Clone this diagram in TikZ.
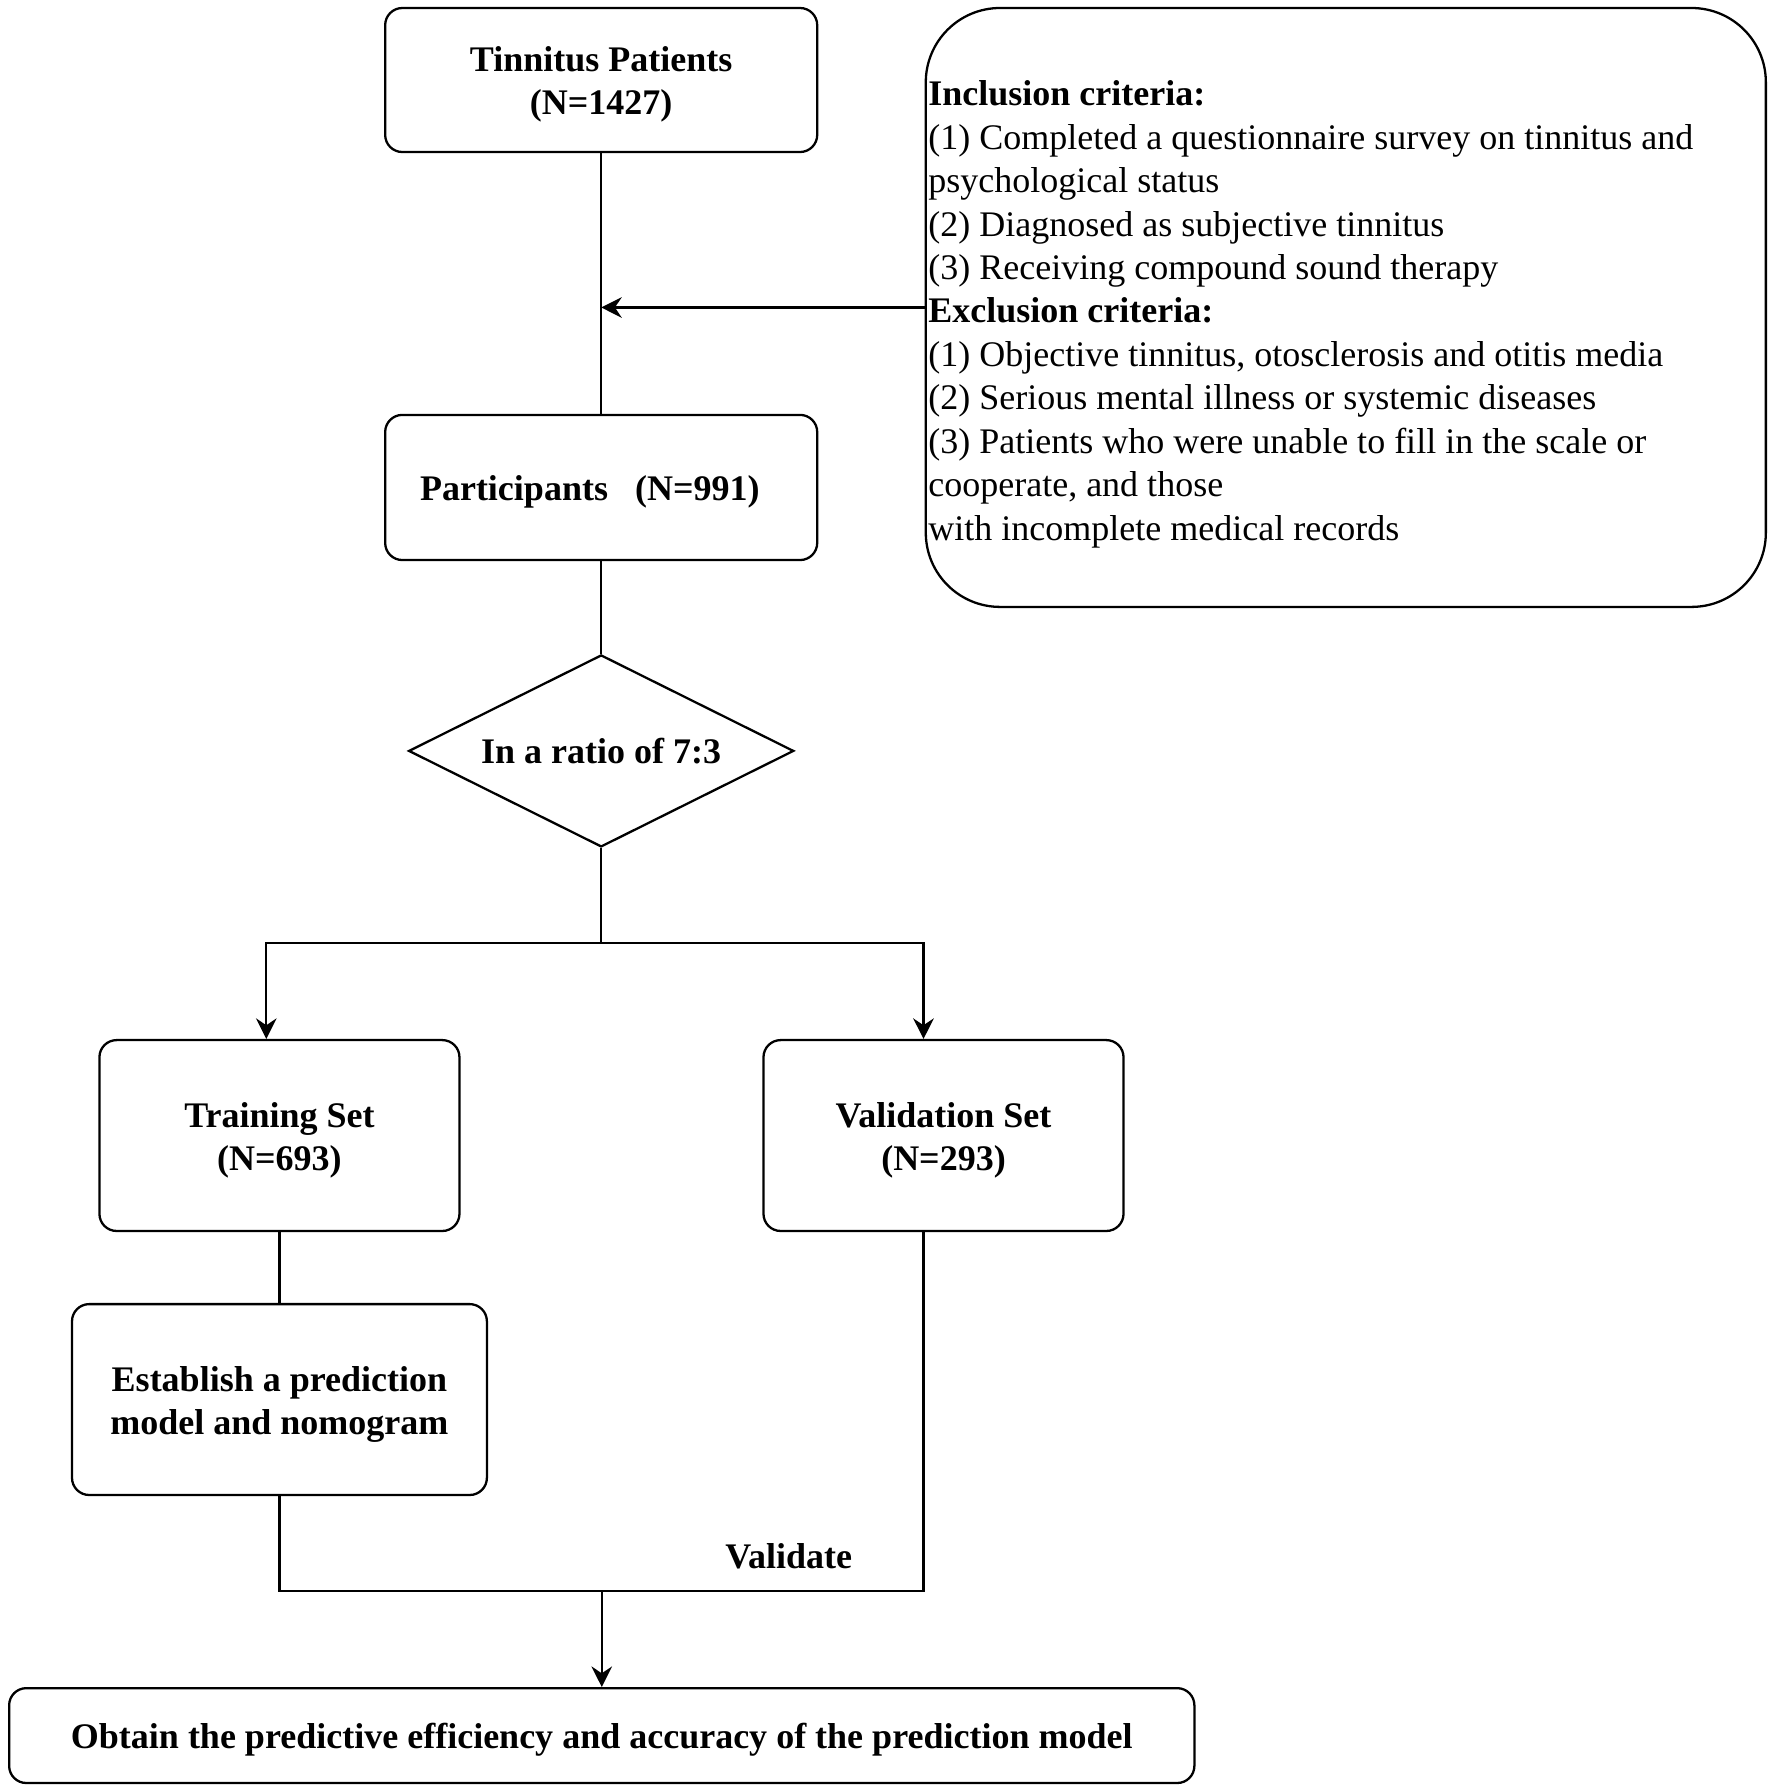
\documentclass[tikz,border=0pt]{standalone}
\usepackage{fontspec}
\setmainfont{Liberation Serif}
\usetikzlibrary{shapes.geometric,arrows.meta}
\newcommand{\boxtxt}[1]{\raisebox{-4pt}[\height][\depth]{\begin{tabular}{@{}c@{}}#1\end{tabular}}}
\begin{document}
\begin{tikzpicture}[x=1pt,y=-1pt,
  box/.style={draw,line width=2pt,rounded corners=15pt,inner sep=0pt,
    font=\fontsize{31.5}{38}\selectfont\bfseries},
  conn/.style={line width=2pt},
  arr/.style={line width=2pt,-{Stealth[length=18pt,width=18pt,inset=6pt]}},
  lbl/.style={font=\fontsize{31.5}{38}\selectfont\bfseries,inner sep=0pt}]
\useasboundingbox (0,0) rectangle (1550,1567);
\node[box,minimum width=378pt,minimum height=126pt] (tp) at (526,70) {\boxtxt{Tinnitus Patients\\(N=1427)}};
\node[box,minimum width=378pt,minimum height=127pt] (part) at (526,426.5) {\boxtxt{Participants\hspace{0.75em}(N=991)\kern20pt}};
\node[draw,line width=2pt,rounded corners=65pt,minimum width=735pt,minimum height=524pt,inner sep=0pt] (crit) at (1177.5,269) {};
\node[anchor=west,inner sep=0pt,align=left,font=\fontsize{31.5}{38}\selectfont] (crittext) at (812,275) {\textbf{Inclusion criteria:}\\
(1) Completed a questionnaire survey on tinnitus and\\
psychological status\\
(2) Diagnosed as subjective tinnitus\\
(3) Receiving compound sound therapy\\
\textbf{Exclusion criteria:}\\
(1) Objective tinnitus, otosclerosis and otitis media\\
(2) Serious mental illness or systemic diseases\\
(3) Patients who were unable to fill in the scale or\\
cooperate, and those\\
with incomplete medical records};
\node[draw,diamond,line width=2pt,minimum width=337pt,minimum height=168pt,inner sep=0pt,aspect=2,
  font=\fontsize{31.5}{38}\selectfont\bfseries] (dia) at (526,657) {In a ratio of 7:3};
\node[box,minimum width=315pt,minimum height=167pt] (train) at (244.5,993.5) {\boxtxt{Training Set\\(N=693)}};
\node[box,minimum width=315pt,minimum height=167pt] (val) at (825.5,993.5) {\boxtxt{Validation Set\\(N=293)}};
\node[box,minimum width=363pt,minimum height=167pt] (est) at (244.5,1224.5) {\boxtxt{Establish a prediction\\model and nomogram}};
\node[box,minimum width=1037pt,minimum height=83pt] (final) at (526.5,1518.5) {\boxtxt{Obtain the predictive efficiency and accuracy of the prediction model}};
\node[lbl] (vlabel) at (690,1362) {Validate};
\coordinate (tl) at (233,825);
\coordinate (tr) at (808,825);
\coordinate (jl) at (244.5,1392);
\coordinate (jr) at (808,1392);
\coordinate (jm) at (526.5,1392);
\draw[conn] (tp.south) -- (part.north);
\draw[arr] (crit.west) -- (crit.west -| tp.south);
\draw[conn] (part.south) -- (dia.north);
\draw[arr] (dia.south) |- (tl) -- (tl |- train.north);
\draw[arr] (dia.south) |- (tr) -- (tr |- val.north);
\draw[conn] (train.south) -- (est.north);
\draw[conn] (est.south) -- (jl) -- (jr) -- (jr |- val.south);
\draw[arr] (jm) -- (final.north);
\end{tikzpicture}
\end{document}
